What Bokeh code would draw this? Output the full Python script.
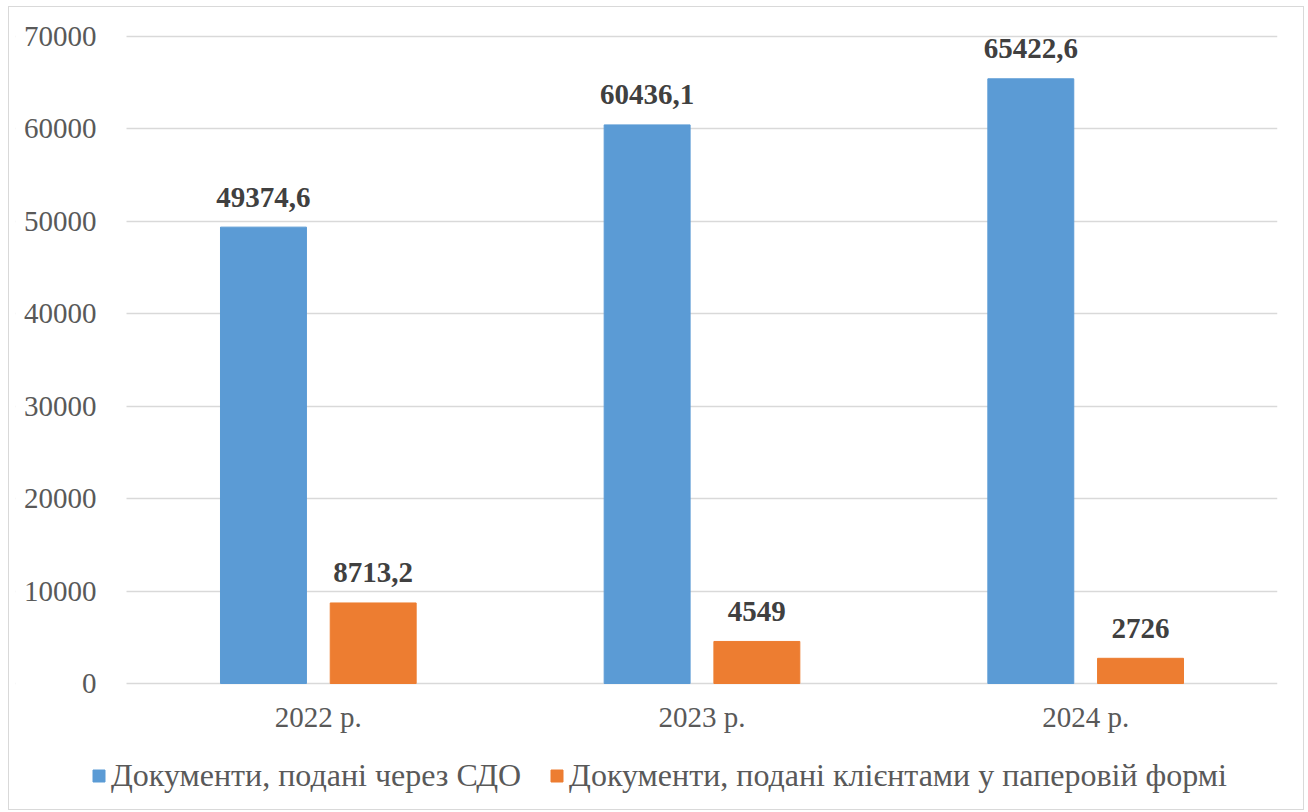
from bokeh.plotting import figure
from bokeh.models import (ColumnDataSource, Range1d, Legend, LegendItem, BoxAnnotation,
                          FixedTicker, NumeralTickFormatter)
from bokeh.transform import dodge
from bokeh.core.properties import value
from bokeh.embed import file_html
from bokeh.resources import INLINE

categories = ["2022 р.", "2023 р.", "2024 р."]
sdo_values = [49374.6, 60436.1, 65422.6]
paper_values = [8713.2, 4549, 2726]
sdo_labels = ["49374,6", "60436,1", "65422,6"]
paper_labels = ["8713,2", "4549", "2726"]
y_ticks = [0, 10000, 20000, 30000, 40000, 50000, 60000, 70000]
series_names = ["Документи, подані через СДО", "Документи, подані клієнтами у паперовій формі"]
colors = ["#5B9BD5", "#ED7D31"]

n = len(categories)
xc = [i + 0.5 for i in range(n)]   # category centres on a numeric axis

src = ColumnDataSource(dict(xc=xc, cat=categories, sdo=sdo_values, paper=paper_values,
                            sdo_lab=sdo_labels, paper_lab=paper_labels))

FONT = "'Liberation Serif'"

# layout (pixels)
W, H = 1296, 804
TOP, BOTTOM, LEFT, RIGHT = 4, 2, 6, 28
DATA_TOP = 29                     # pixels from figure top to the top grid line
DATA_H = 647                      # pixels from 0 to 70000
DATA_W = 1151                     # pixels spanned by the categories
frame_h = H - TOP - BOTTOM
frame_w = W - LEFT - RIGHT
above = DATA_TOP - TOP
below = frame_h - DATA_H - above
y_max = y_ticks[-1]
y_hi = y_max * (1 + above / DATA_H)
y_lo = -y_max * below / DATA_H
x_lo = -n * (frame_w - DATA_W) / DATA_W

p = figure(width=W, height=H, x_range=Range1d(x_lo, n), y_range=Range1d(y_lo, y_hi),
           output_backend="svg", toolbar_location=None,
           min_border_left=LEFT, min_border_right=RIGHT, min_border_top=TOP, min_border_bottom=BOTTOM)
p.styles = {"border": "1.5px solid #D9D9D9", "box-sizing": "border-box",
            "margin-left": "8px", "margin-top": "6px"}
p.outline_line_color = None

off = 0.143
w = 0.224
r1 = p.vbar(x=dodge("xc", -off), top="sdo", width=w, source=src, color=colors[0])
r2 = p.vbar(x=dodge("xc", off), top="paper", width=w, source=src, color=colors[1])

for xo, col in ((-off, "sdo"), (off, "paper")):
    p.text(x=dodge("xc", xo), y=col, text=col + "_lab", source=src,
           text_font=value(FONT), text_font_size="29px", text_font_style="bold", text_color="#404040",
           text_align="center", text_baseline="alphabetic", y_offset=-30)

# y axis fixed at the left edge of the data area
p.yaxis.fixed_location = 0
p.yaxis.ticker = FixedTicker(ticks=y_ticks)
p.yaxis.formatter = NumeralTickFormatter(format="0")
p.yaxis.axis_line_color = None
p.yaxis.major_tick_line_color = None
p.yaxis.minor_tick_line_color = None
p.yaxis.major_label_text_font = FONT
p.yaxis.major_label_text_font_size = "29px"
p.yaxis.major_label_text_color = "#595959"
p.yaxis.major_label_standoff = 24

# x axis fixed at zero, category names as tick labels
p.xaxis.fixed_location = 0
p.xaxis.ticker = FixedTicker(ticks=xc)
p.xaxis.major_label_overrides = {x: c for x, c in zip(xc, categories)}
p.xaxis.axis_line_color = None
p.xaxis.major_tick_line_color = None
p.xaxis.minor_tick_line_color = None
p.xaxis.major_label_text_font = FONT
p.xaxis.major_label_text_font_size = "29px"
p.xaxis.major_label_text_color = "#595959"
p.xaxis.major_label_standoff = 11

p.xgrid.grid_line_color = None
p.ygrid.ticker = FixedTicker(ticks=y_ticks)
p.ygrid.grid_line_color = "#D9D9D9"
p.ygrid.grid_line_width = 1.5

# keep grid lines out of the tick-label area
p.add_layout(BoxAnnotation(right=0, fill_color="white", fill_alpha=1, line_alpha=0, level="underlay"))

legend = Legend(items=[LegendItem(label=series_names[0], renderers=[r1]),
                       LegendItem(label=series_names[1], renderers=[r2])],
                orientation="horizontal", location=(76, 15),
                label_text_font=FONT, label_text_font_size="32px", label_text_color="#595959",
                glyph_width=15, glyph_height=15, label_standoff=5, spacing=28,
                border_line_color=None, background_fill_alpha=0, margin=0, padding=1)
p.add_layout(legend, "center")

open("out.html", "w").write(file_html(p, INLINE))
